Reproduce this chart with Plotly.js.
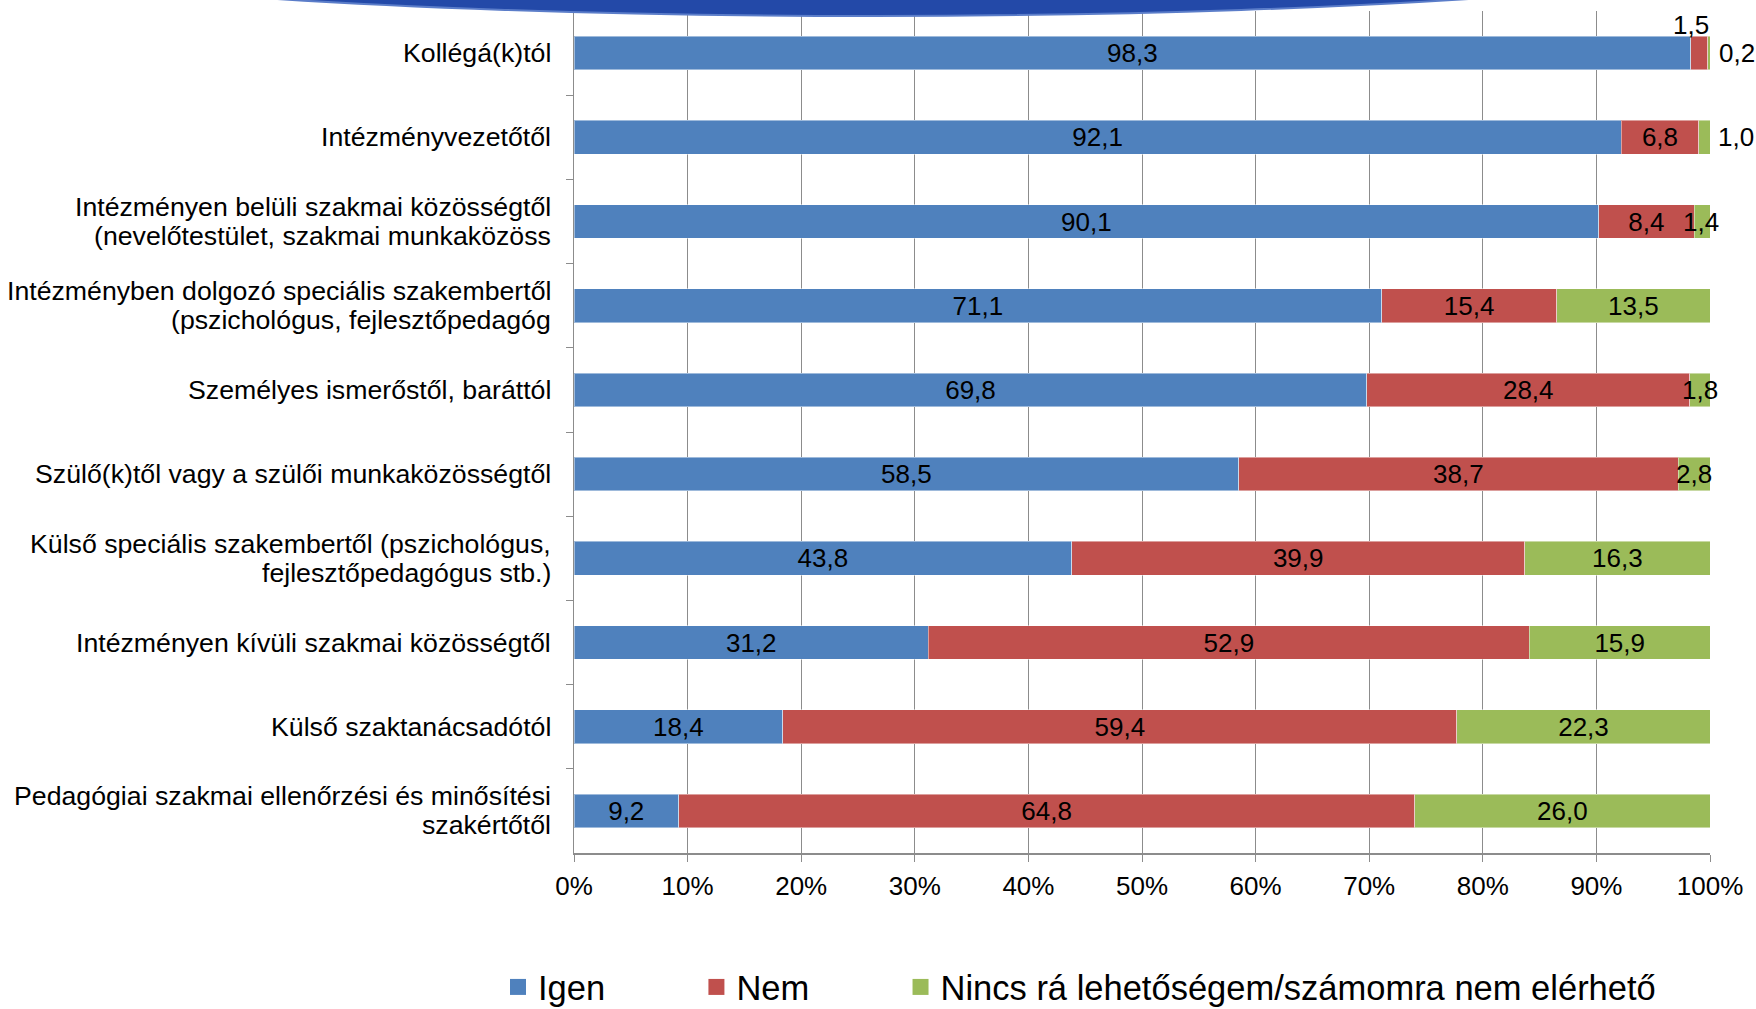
<!DOCTYPE html>
<html>
<head>
<meta charset="utf-8">
<script src="https://cdn.plot.ly/plotly-3.0.1.min.js"></script>
<style>
  html, body { margin: 0; padding: 0; background: #ffffff; }
  #chart { width: 1756px; height: 1009px; }
</style>
</head>
<body>
<div id="chart"></div>
<script>
const categories = [
  "Kollégá(k)tól",
  "Intézményvezetőtől",
  "Intézményen belüli szakmai közösségtől<br>(nevelőtestület, szakmai munkaközöss",
  "Intézményben dolgozó speciális szakembertől<br>(pszichológus, fejlesztőpedagóg",
  "Személyes ismerőstől, baráttól",
  "Szülő(k)től vagy a szülői munkaközösségtől",
  "Külső speciális szakembertől (pszichológus,<br>fejlesztőpedagógus stb.)",
  "Intézményen kívüli szakmai közösségtől",
  "Külső szaktanácsadótól",
  "Pedagógiai szakmai ellenőrzési és minősítési<br>szakértőtől"
];
const igen  = [98.3, 92.1, 90.1, 71.1, 69.8, 58.5, 43.8, 31.2, 18.4, 9.2];
const nem   = [1.5, 6.8, 8.4, 15.4, 28.4, 38.7, 39.9, 52.9, 59.4, 64.8];
const nincs = [0.2, 1.0, 1.4, 13.5, 1.8, 2.8, 16.3, 15.9, 22.3, 26.0];
const seriesNames = ["Igen", "Nem", "Nincs rá lehetőségem/számomra nem elérhető"];
const seriesColors = ["#4F81BD", "#C0504D", "#9BBB59"];
const tickVals = [0, 10, 20, 30, 40, 50, 60, 70, 80, 90, 100];
const tickText = ["0%", "10%", "20%", "30%", "40%", "50%", "60%", "70%", "80%", "90%", "100%"];

const FONT = "Liberation Sans, Arial, sans-serif";
const fmt = v => v.toFixed(1).replace(".", ",");

const L = 574, R = 46, T = 11, B = 156;
const PW = 1756 - L - R, PH = 1009 - T - B;
const px2x = p => (p - L) / PW;
const py2y = p => (1009 - B - p) / PH;

const common = {
  type: "bar",
  orientation: "h",
  y: categories,
  width: 0.4,
  textposition: "inside",
  insidetextanchor: "middle",
  constraintext: "none",
  textangle: 0,
  textfont: { family: FONT, size: 26, color: "#000000" },
  hoverinfo: "skip",
  cliponaxis: false,
  showlegend: false
};

const barLine = { color: "rgba(255,255,255,0.45)", width: 1 };

// small segments get their labels as annotations (see below)
const nemText = nem.map(v => v < 3 ? "" : fmt(v));
const nincsText = nincs.map(v => v < 3 ? "" : fmt(v));

const traces = [
  Object.assign({}, common, {
    name: seriesNames[0], x: igen, text: igen.map(fmt),
    marker: { color: seriesColors[0], line: barLine }
  }),
  Object.assign({}, common, {
    name: seriesNames[1], x: nem, text: nemText,
    marker: { color: seriesColors[1], line: barLine }
  }),
  Object.assign({}, common, {
    name: seriesNames[2], x: nincs, text: nincsText,
    marker: { color: seriesColors[2], line: barLine }
  })
];

// legend entries (square markers), padded names for spacing
const pad = "\u00A0".repeat(9);
const legendNames = [seriesNames[0] + pad, seriesNames[1] + pad, seriesNames[2]];
seriesNames.forEach((n, i) => {
  traces.push({
    type: "scatter", mode: "markers",
    x: [null], y: [null],
    name: legendNames[i],
    marker: { symbol: "square", size: 16, color: seriesColors[i] },
    hoverinfo: "skip",
    showlegend: true
  });
});

const annotations = [];
// category labels (multi-line, tighter line spacing than tick labels)
categories.forEach(c => {
  const lines = c.split("<br>");
  lines.forEach((ln, i) => {
    annotations.push({
      xref: "paper", yref: "y",
      x: px2x(553), y: c,
      text: ln,
      showarrow: false,
      xanchor: "right", yanchor: "middle",
      yshift: ((lines.length - 1) / 2 - i) * 29,
      font: { family: FONT, size: 26.7, color: "#000000" }
    });
  });
});
// small "Nem" labels: above the bar
nem.forEach((v, i) => {
  if (v < 3) {
    annotations.push({
      xref: "x", yref: "y",
      x: igen[i] + v / 2, y: categories[i],
      text: fmt(v), showarrow: false,
      xanchor: "center", yanchor: "middle",
      xshift: -8, yshift: 28,
      font: { family: FONT, size: 26, color: "#000000" }
    });
  }
});
// small "Nincs" labels: outside when tiny, centred on the segment otherwise
nincs.forEach((v, i) => {
  if (v < 3) {
    const outside = v < 1.2;
    annotations.push({
      xref: "x", yref: "y",
      x: outside ? igen[i] + nem[i] + v : igen[i] + nem[i] + v / 2,
      y: categories[i],
      text: fmt(v), showarrow: false,
      xanchor: outside ? "left" : "center", yanchor: "middle",
      xshift: outside ? 7 : 0,
      font: { family: FONT, size: 26, color: "#000000" }
    });
  }
});

const layout = {
  width: 1756,
  height: 1009,
  margin: { l: L, r: R, t: T, b: B, pad: 0, autoexpand: false },
  paper_bgcolor: "#ffffff",
  plot_bgcolor: "#ffffff",
  barmode: "stack",
  barnorm: "percent",
  separators: ",.",
  font: { family: FONT, size: 26, color: "#000000" },
  showlegend: true,
  legend: {
    orientation: "h",
    x: px2x(498),
    xanchor: "left",
    y: py2y(987),
    yanchor: "middle",
    font: { family: FONT, size: 34.5, color: "#000000" },
    itemclick: false,
    traceorder: "normal"
  },
  xaxis: {
    range: [0, 100],
    tickvals: tickVals,
    ticktext: tickText,
    showgrid: true,
    gridcolor: "#8c8c8c",
    gridwidth: 1,
    showline: true,
    linecolor: "#8c8c8c",
    linewidth: 1.5,
    ticks: "outside",
    ticklen: 7,
    tickcolor: "#8c8c8c",
    ticklabelstandoff: 2,
    zeroline: false,
    fixedrange: true,
    tickfont: { family: FONT, size: 26, color: "#000000" }
  },
  yaxis: {
    type: "category",
    categoryarray: categories,
    autorange: "reversed",
    showline: true,
    linecolor: "#8c8c8c",
    linewidth: 1.5,
    ticks: "outside",
    tickson: "boundaries",
    ticklen: 7,
    tickcolor: "#8c8c8c",
    showticklabels: false,
    showgrid: false,
    fixedrange: true
  },
  annotations: annotations,
  shapes: [
    {
      type: "circle",
      xref: "paper", yref: "paper",
      x0: px2x(-127), x1: px2x(1873),
      y0: py2y(-157), y1: py2y(16),
      fillcolor: "#2349A8",
      line: { color: "#5b7dc9", width: 2 },
      layer: "above"
    }
  ]
};

Plotly.newPlot("chart", traces, layout, { staticPlot: true, displayModeBar: false });
</script>
</body>
</html>
